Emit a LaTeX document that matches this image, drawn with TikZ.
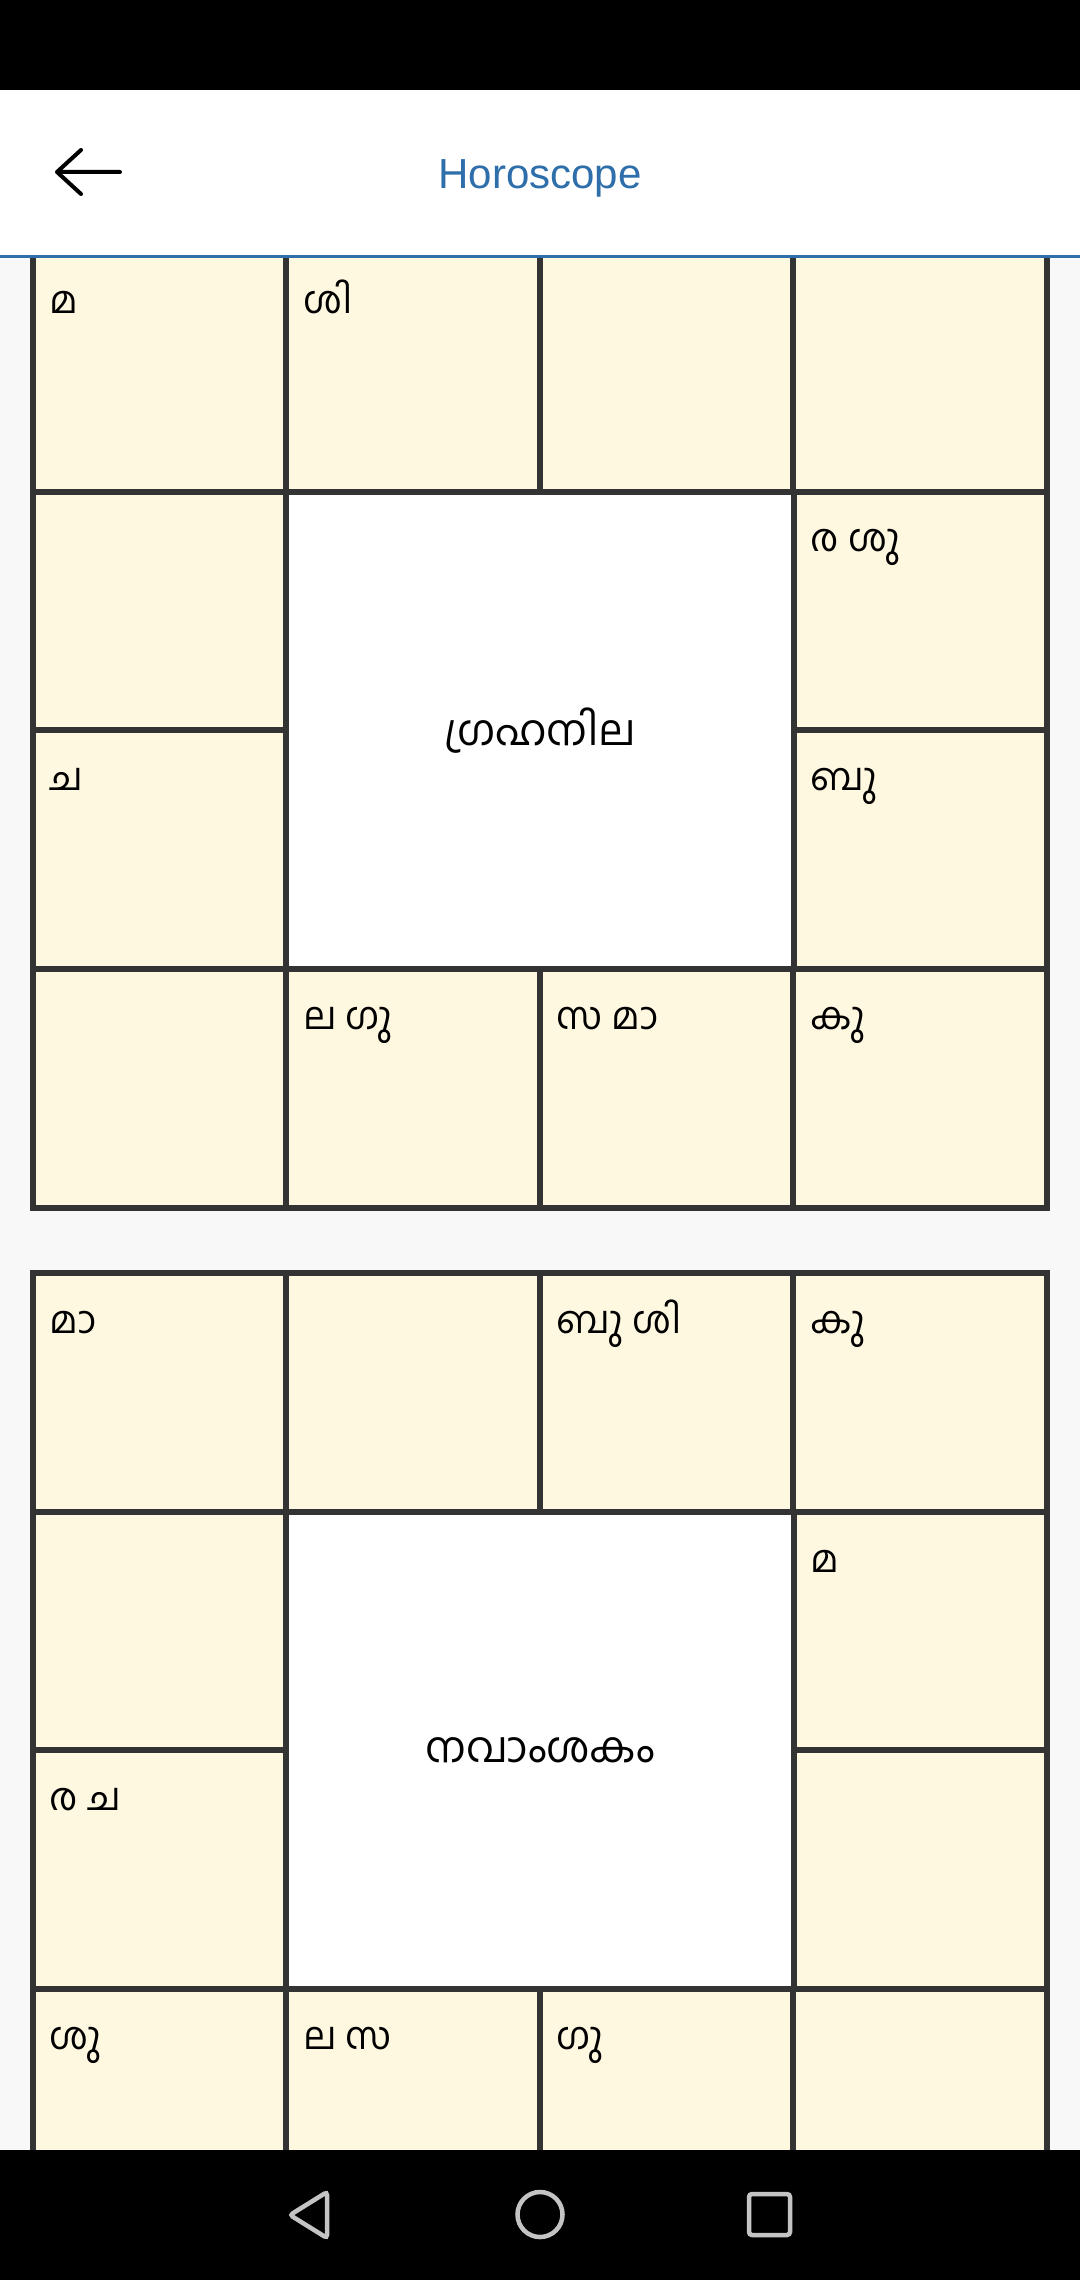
\documentclass[tikz,border=0pt]{standalone}
\usepackage{fontspec}
\setmainfont{Liberation Sans}
\newfontfamily\mlfont[Script=Malayalam]{Hind Kochi}
\usepackage{xcolor}
\usepackage{tikz}
\usetikzlibrary{positioning}

\definecolor{pagebg}{HTML}{F8F8F8}
\definecolor{cream}{HTML}{FFF8E1}
\definecolor{gridline}{HTML}{333333}
\definecolor{titleblue}{HTML}{2E6EAA}
\definecolor{navgrey}{HTML}{C4C4C4}

\begin{document}
\begin{tikzpicture}[x=0.01cm, y=-0.01cm,
  house/.style={draw=gridline, fill=cream, line width=0.06cm, inner sep=0pt, outer sep=0pt,
    minimum width=2.535cm, minimum height=2.385cm},
  centre/.style={draw=gridline, fill=white, line width=0.06cm, inner sep=0pt, outer sep=0pt,
    minimum width=5.07cm, minimum height=4.77cm, font=\mlfont\fontsize{12.1pt}{14pt}\selectfont},
  graha/.style={anchor=base west, inner sep=0pt, font=\mlfont\fontsize{10.8pt}{13pt}\selectfont},
  navicon/.style={draw=navgrey, line width=0.045cm, rounded corners=0.03cm}]
\useasboundingbox (0,0) rectangle (1080,2280);
\fill[pagebg] (0,0) rectangle (1080,2280);

% Grahanila chart
\node[house] (ga00) at (159.75,372.75) {};
\node[house] (ga01) at (413.25,372.75) {};
\node[house] (ga02) at (666.75,372.75) {};
\node[house] (ga03) at (920.25,372.75) {};
\node[house] (ga10) at (159.75,611.25) {};
\node[house] (ga13) at (920.25,611.25) {};
\node[house] (ga20) at (159.75,849.75) {};
\node[house] (ga23) at (920.25,849.75) {};
\node[house] (ga30) at (159.75,1088.25) {};
\node[house] (ga31) at (413.25,1088.25) {};
\node[house] (ga32) at (666.75,1088.25) {};
\node[house] (ga33) at (920.25,1088.25) {};
\node[centre] (gacentre) at (540,730.5) {ഗ്രഹനില};

\node[graha] (gat00) at (49,313.5) {മ};
\node[graha] (gat01) at (302.5,313.5) {ശി};
\node[graha] (gat13) at (810,552) {ര ശു};
\node[graha] (gat20) at (49,790.5) {ച};
\node[graha] (gat23) at (810,790.5) {ബു};
\node[graha] (gat31) at (302.5,1029) {ല ഗു};
\node[graha] (gat32) at (556,1029) {സ മാ};
\node[graha] (gat33) at (810,1029) {കു};

% Navamsakam chart
\node[house] (na00) at (159.75,1392.75) {};
\node[house] (na01) at (413.25,1392.75) {};
\node[house] (na02) at (666.75,1392.75) {};
\node[house] (na03) at (920.25,1392.75) {};
\node[house] (na10) at (159.75,1631.25) {};
\node[house] (na13) at (920.25,1631.25) {};
\node[house] (na20) at (159.75,1869.75) {};
\node[house] (na23) at (920.25,1869.75) {};
\node[house] (na30) at (159.75,2108.25) {};
\node[house] (na31) at (413.25,2108.25) {};
\node[house] (na32) at (666.75,2108.25) {};
\node[house] (na33) at (920.25,2108.25) {};
\node[centre] (nacentre) at (540,1750.5) {നവാംശകം};

\node[graha] (nat00) at (49,1333.5) {മാ};
\node[graha] (nat02) at (556,1333.5) {ബു ശി};
\node[graha] (nat03) at (810,1333.5) {കു};
\node[graha] (nat13) at (810,1572) {മ};
\node[graha] (nat20) at (49,1810.5) {ര ച};
\node[graha] (nat30) at (49,2049) {ശു};
\node[graha] (nat31) at (302.5,2049) {ല സ};
\node[graha] (nat32) at (556,2049) {ഗു};

% app bar and status bar
\fill[white] (0,90) rectangle (1080,255);
\fill[titleblue] (0,255) rectangle (1080,258);
\fill[black] (0,0) rectangle (1080,90);
\draw[line width=0.04cm, line cap=round, line join=round]
  (81,150) -- (57,172) -- (81,194) (57,172) -- (120,172);
\node[font=\fontsize{11.95pt}{14pt}\selectfont, text=titleblue] (title) at (540,178) {Horoscope};

% navigation bar
\fill[black] (0,2150) rectangle (1080,2280);
\draw[navicon] (290,2215) -- (327,2192) -- (327,2238) -- cycle;
\draw[navicon] (540,2214.5) circle[radius=0.225cm];
\draw[navicon] (749,2194) rectangle (790,2235);
\end{tikzpicture}
\end{document}
